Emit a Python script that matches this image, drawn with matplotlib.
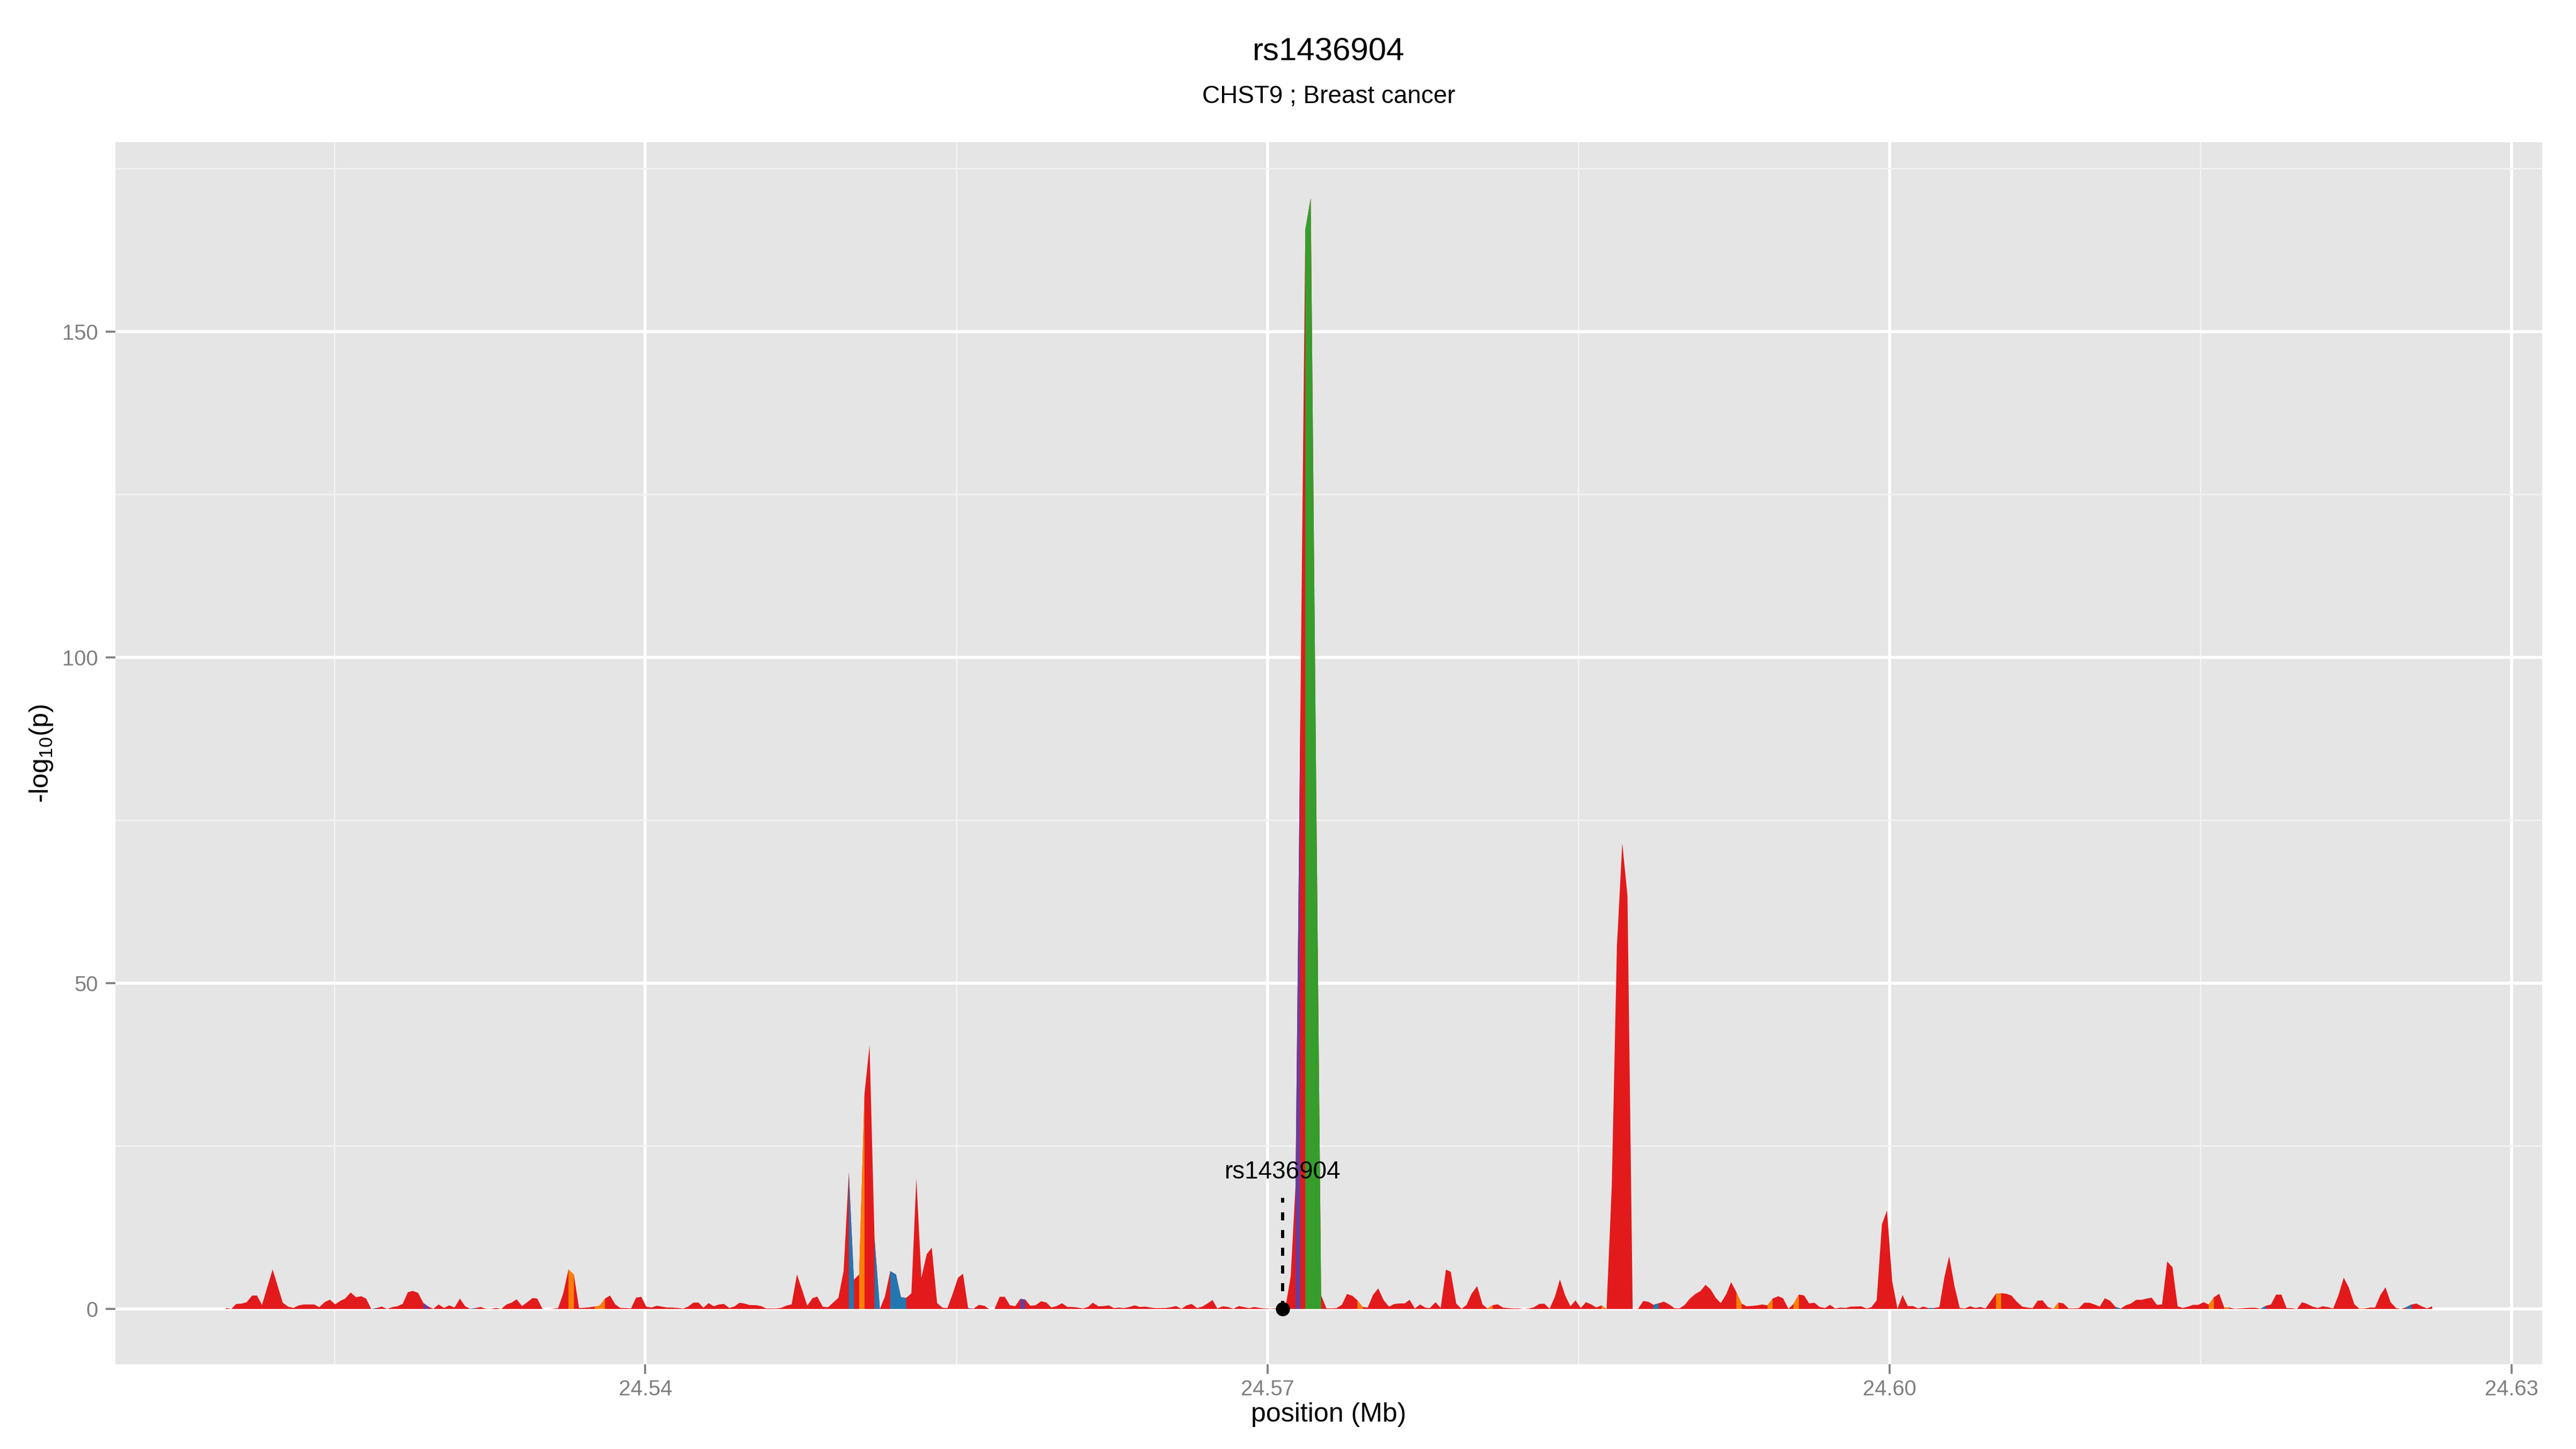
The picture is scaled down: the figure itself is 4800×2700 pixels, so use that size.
import numpy as np
import matplotlib
matplotlib.use('Agg')
import matplotlib.pyplot as plt

plt.rcParams['font.family'] = ['Liberation Sans', 'DejaVu Sans']
plt.rcParams['mathtext.fontset'] = 'custom'
plt.rcParams['mathtext.rm'] = 'Liberation Sans'
plt.rcParams['mathtext.default'] = 'regular'

# SNP positions (bp) and -log10(p)
pos_bp = [
    24519766, 24520021, 24520257, 24520512, 24520768, 24521024, 24521259, 24521504, 24522015, 24522506,
    24522762, 24523018, 24523273, 24523529, 24523774, 24524020, 24524265, 24524521, 24524776, 24525032,
    24525288, 24525513, 24525779, 24526034, 24526290, 24526525, 24526771, 24527026, 24527282, 24527538,
    24527773, 24528028, 24528284, 24528540, 24528775, 24529031, 24529286, 24529532, 24529767, 24530022,
    24530278, 24530534, 24530789, 24531045, 24531301, 24531536, 24531792, 24532047, 24532303, 24532558,
    24532804, 24533039, 24533295, 24533550, 24533786, 24534041, 24534297, 24534552, 24534778, 24535033,
    24535284, 24535534, 24535784, 24536026, 24536284, 24536543, 24536793, 24537034, 24537284, 24537534,
    24537784, 24538043, 24538284, 24538543, 24538784, 24539043, 24539301, 24539543, 24539793, 24540034,
    24540284, 24540543, 24540784, 24541043, 24541301, 24541560, 24541801, 24542051, 24542301, 24542551,
    24542792, 24543042, 24543284, 24543542, 24543784, 24544034, 24544284, 24544534, 24544775, 24545025,
    24545338, 24545568, 24545822, 24546088, 24546318, 24546551, 24546804, 24547045, 24547301, 24547554,
    24547797, 24548051, 24548281, 24548547, 24548801, 24549054, 24549297, 24549551, 24549804, 24550047,
    24550301, 24550557, 24550803, 24551043, 24551302, 24551542, 24551801, 24552078, 24552318, 24552569,
    24552820, 24553060, 24553301, 24553559, 24553803, 24554061, 24554320, 24554560, 24554819, 24555070,
    24555310, 24555556, 24555809, 24556076, 24556329, 24556572, 24556826, 24557079, 24557322, 24557576,
    24557829, 24558072, 24558303, 24558556, 24558812, 24559076, 24559329, 24559572, 24559826, 24560082,
    24560340, 24560586, 24560845, 24561085, 24561336, 24561569, 24561835, 24562086, 24562345, 24562585,
    24562836, 24563069, 24563338, 24563586, 24563845, 24564088, 24564341, 24564595, 24564838, 24565091,
    24565345, 24565588, 24565841, 24566095, 24566338, 24566594, 24566845, 24567088, 24567344, 24567574,
    24567840, 24568094, 24568347, 24568614, 24568867, 24569110, 24569364, 24569617, 24569860, 24570114,
    24570367, 24570610, 24570866, 24571112, 24571345, 24571578, 24571818, 24572077, 24572335, 24572579,
    24572832, 24573096, 24573323, 24573577, 24573828, 24574097, 24574329, 24574583, 24574826, 24575079,
    24575333, 24575599, 24575853, 24576116, 24576372, 24576615, 24576846, 24577099, 24577353, 24577596,
    24577826, 24578095, 24578346, 24578599, 24578832, 24579096, 24579352, 24579595, 24579825, 24580102,
    24580365, 24580598, 24580852, 24581095, 24581348, 24581602, 24581868, 24582098, 24582362, 24582618,
    24582848, 24583102, 24583345, 24583598, 24583854, 24584095, 24584351, 24584604, 24584845, 24585101,
    24585354, 24585595, 24585851, 24586099, 24586345, 24586596, 24586844, 24587103, 24587353, 24587604,
    24587871, 24588116, 24588362, 24588608, 24588853, 24589112, 24589371, 24589616, 24589862, 24590108,
    24590353, 24590612, 24590871, 24591119, 24591357, 24591613, 24591853, 24592120, 24592350, 24592603,
    24592859, 24593102, 24593353, 24593609, 24593852, 24594106, 24594354, 24594620, 24594853, 24595117,
    24595360, 24595619, 24595872, 24596115, 24596369, 24596622, 24596889, 24597119, 24597372, 24597615,
    24597869, 24598122, 24598389, 24598619, 24598875, 24599115, 24599371, 24599625, 24599868, 24600121,
    24600375, 24600618, 24600871, 24601125, 24601368, 24601621, 24601875, 24602141, 24602395, 24602638,
    24602868, 24603124, 24603377, 24603621, 24603874, 24604127, 24604371, 24604624, 24604877, 24605121,
    24605374, 24605627, 24605871, 24606124, 24606390, 24606644, 24606897, 24607130, 24607371, 24607627,
    24607890, 24608144, 24608377, 24608630, 24608871, 24609127, 24609380, 24609623, 24609877, 24610130,
    24610373, 24610627, 24610893, 24611146, 24611392, 24611633, 24611886, 24612150, 24612383, 24612631,
    24612887, 24613133, 24613381, 24613637, 24613885, 24614131, 24614389, 24614635, 24614881, 24615139,
    24615385, 24615631, 24615889, 24616135, 24616383, 24616639, 24616888, 24617133, 24617389, 24617638,
    24617883, 24618142, 24618388, 24618633, 24618892, 24619138, 24619386, 24619642, 24619888, 24620136,
    24620392, 24620638, 24620886, 24621142, 24621388, 24621636, 24621895, 24622140, 24622409, 24622655,
    24622914, 24623159, 24623405, 24623664, 24623909, 24624155, 24624414, 24624659, 24624905, 24625164,
    24625409, 24625655, 24625914, 24626162,
]
logp = [
    0.16, 0.0, 0.77, 0.82, 1.04, 2.06, 2.06, 0.63, 6.07, 0.96,
    0.36, 0.16, 0.55, 0.69, 0.69, 0.69, 0.27, 1.04, 1.43, 0.71,
    1.26, 1.59, 2.53, 1.81, 1.95, 1.59, 0.0, 0.16, 0.36, 0.0,
    0.27, 0.41, 0.77, 2.58, 2.77, 2.47, 0.9, 0.36, 0.03, 0.69,
    0.16, 0.55, 0.22, 1.59, 0.41, 0.03, 0.14, 0.3, 0.03, 0.03,
    0.16, 0.0, 0.69, 0.99, 1.48, 0.44, 1.04, 1.68, 1.59, 0.0,
    0.0, 0.03, 0.14, 2.34, 6.07, 5.25, 0.14, 0.19, 0.25, 0.36,
    0.49, 1.59, 2.06, 0.69, 0.16, 0.14, 0.08, 1.73, 1.87, 0.36,
    0.22, 0.49, 0.36, 0.22, 0.22, 0.16, 0.05, 0.36, 0.96, 0.99,
    0.19, 0.9, 0.41, 0.69, 0.77, 0.16, 0.38, 0.96, 0.82, 0.6,
    0.58, 0.44, 0.08, 0.08, 0.08, 0.19, 0.52, 0.71, 5.3, 2.9,
    0.5, 1.65, 1.9, 0.34, 0.27, 1.0, 1.7, 5.8, 21.0, 4.5,
    5.3, 33.0, 40.5, 10.8, 0.0, 1.9, 5.8, 5.3, 1.8, 1.7,
    2.4, 20.1, 4.8, 8.4, 9.4, 0.9, 0.2, 0.14, 2.4, 4.8,
    5.4, 0.14, 0.03, 0.63, 0.49, 0.0, 0.0, 1.87, 1.87, 0.55,
    0.44, 1.54, 1.46, 0.49, 0.58, 1.18, 0.99, 0.22, 0.44, 0.88,
    0.32, 0.3, 0.22, 0.08, 0.3, 0.96, 0.41, 0.44, 0.55, 0.14,
    0.22, 0.14, 0.3, 0.55, 0.3, 0.36, 0.22, 0.14, 0.14, 0.16,
    0.27, 0.44, 0.03, 0.55, 0.77, 0.14, 0.36, 0.82, 1.37, 0.08,
    0.41, 0.3, 0.03, 0.44, 0.27, 0.14, 0.3, 0.16, 0.08, 0.03,
    0.08, 0.14, 0.36, 5.0, 18.9, 91.0, 165.7, 170.5, 82.0, 2.1,
    0.1, 0.1, 0.14, 0.63, 2.3, 2.0, 1.32, 0.3, 0.22, 2.14,
    3.16, 1.32, 0.36, 0.77, 0.85, 0.85, 1.4, 0.08, 0.69, 0.22,
    0.14, 1.04, 0.16, 6.04, 5.7, 0.82, 0.03, 0.63, 2.28, 3.51,
    0.69, 0.08, 0.58, 0.71, 0.22, 0.14, 0.08, 0.08, 0.0, 0.08,
    0.27, 0.77, 0.82, 0.03, 1.87, 4.53, 2.06, 0.41, 1.32, 0.16,
    1.04, 0.71, 0.22, 0.55, 0.0, 18.9, 55.7, 71.5, 63.4, 0.0,
    0.05, 1.22, 1.1, 0.63, 0.87, 1.12, 0.69, 0.12, 0.09, 0.6,
    1.55, 2.27, 2.75, 3.7, 3.03, 1.7, 0.9, 2.28, 4.12, 2.6,
    0.82, 0.41, 0.47, 0.55, 0.69, 0.55, 1.6, 1.95, 1.66, 0.02,
    0.78, 2.22, 2.06, 0.85, 0.96, 0.3, 0.16, 0.63, 0.08, 0.22,
    0.16, 0.36, 0.38, 0.41, 0.08, 0.27, 1.32, 13.0, 15.1, 4.26,
    0.03, 2.14, 0.44, 0.44, 0.08, 0.36, 0.14, 0.16, 0.3, 4.89,
    8.1, 3.51, 0.16, 0.08, 0.41, 0.16, 0.3, 0.08, 1.24, 2.33,
    2.42, 2.33, 2.06, 1.13, 0.36, 0.22, 0.14, 1.26, 1.32, 0.3,
    0.03, 0.99, 0.85, 0.08, 0.08, 0.14, 0.96, 0.96, 0.69, 0.36,
    1.65, 1.26, 0.3, 0.08, 0.57, 0.84, 1.4, 1.4, 1.59, 1.73,
    0.63, 0.69, 7.28, 6.4, 0.41, 0.16, 0.36, 0.63, 0.63, 1.04,
    0.69, 1.78, 2.33, 0.22, 0.22, 0.03, 0.08, 0.14, 0.19, 0.19,
    0.03, 0.49, 0.69, 2.2, 2.2, 0.14, 0.14, 0.0, 1.04, 0.77,
    0.36, 0.16, 0.41, 0.27, 0.08, 2.06, 4.8, 3.3, 0.71, 0.03,
    0.08, 0.22, 0.22, 2.14, 3.32, 1.04, 0.16, 0.0, 0.27, 0.69,
    0.82, 0.41, 0.08, 0.41,
]

# intervals (starting at these SNPs) that are not in the default red class
hl_start = [
    24526771, 24529286, 24531536, 24536284, 24537534, 24537784, 24549804, 24550301,
    24551043, 24551801, 24552078, 24552318, 24555556, 24558072, 24571345, 24571818,
    24572077, 24572335, 24574329, 24580598, 24586099, 24588608, 24592603, 24594106,
    24595360, 24601875, 24605121, 24607890, 24610893, 24615385, 24616135, 24617883,
    24622655, 24624905,
]
hl_class = [
    'blue', 'purple', 'blue', 'orange', 'orange', 'orange', 'blue', 'orange',
    'blue', 'blue', 'blue', 'blue', 'purple', 'purple', 'purple', 'green',
    'green', 'green', 'orange', 'orange', 'orange', 'blue', 'orange', 'orange',
    'orange', 'blue', 'orange', 'orange', 'blue', 'orange', 'orange', 'blue',
    'orange', 'blue',
]

lead_snp = 'rs1436904'
lead_pos_bp = 24570745
subtitle = 'CHST9 ; Breast cancer'

colours = {'red': '#E31A1C', 'blue': '#1F78B4', 'green': '#33A02C',
           'purple': '#6A3D9A', 'orange': '#FF7F00'}

x = np.array(pos_bp) / 1e6
y = np.array(logp)

fig = plt.figure(figsize=(16, 9), dpi=300)
ax = fig.add_axes([0.0448, 0.0585, 0.9421, 0.8433])
ax.set_facecolor('#E5E5E5')
for s in ax.spines.values():
    s.set_visible(False)

ax.fill_between(x, y, 0, color=colours['red'], lw=0, zorder=2)
for start, cls in zip(hl_start, hl_class):
    i = pos_bp.index(start)
    ax.fill_between(x[i:i + 2], y[i:i + 2], 0, color=colours[cls], lw=0, zorder=3)

# lead SNP marker
lx = lead_pos_bp / 1e6
ax.plot([lx, lx], [0, 17], color='black', lw=1.44, ls=(0, (2.5, 3)), zorder=4)
ax.plot([lx], [0], 'o', color='black', ms=5.3, zorder=5)
ax.text(lx, 21, lead_snp, ha='center', va='center', fontsize=11, zorder=5)

# ggplot-like 5% expansion
xr = x.max() - x.min()
ax.set_xlim(x.min() - 0.05 * xr, x.max() + 0.05 * xr)
yr = y.max() - 0
ax.set_ylim(0 - 0.05 * yr, y.max() + 0.05 * yr)

ax.set_xticks([24.54, 24.57, 24.60, 24.63])
ax.set_xticklabels(['24.54', '24.57', '24.60', '24.63'])
ax.set_xticks([24.525, 24.555, 24.585, 24.615], minor=True)
ax.set_yticks([0, 50, 100, 150])
ax.set_yticks([25, 75, 125, 175], minor=True)
ax.set_axisbelow(True)
ax.grid(which='major', color='white', lw=1.35)
ax.grid(which='minor', color='#F2F2F2', lw=0.7)
ax.tick_params(which='major', length=4.3, width=0.9, color='#7F7F7F',
               labelcolor='#7F7F7F', labelsize=9.6)
ax.tick_params(axis='x', pad=2.5)
ax.tick_params(axis='y', pad=3.4)
ax.tick_params(which='minor', length=0)

ax.set_xlabel('position (Mb)', fontsize=12)
ax.xaxis.set_label_coords(0.5, -0.0413)
ax.xaxis.label.set_va('center')
ax.set_ylabel('-log$_{10}$(p)', fontsize=12)
ax.yaxis.set_label_coords(-0.0305, 0.5)
ax.yaxis.label.set_va('center')

# titles centred over the panel
cx = 0.0448 + 0.9421 / 2
fig.text(cx, 0.964, lead_snp, ha='center', va='center', fontsize=14.4)
fig.text(cx, 0.9333, subtitle, ha='center', va='center', fontsize=11)

fig.savefig('out.png', dpi=300, facecolor='white')
